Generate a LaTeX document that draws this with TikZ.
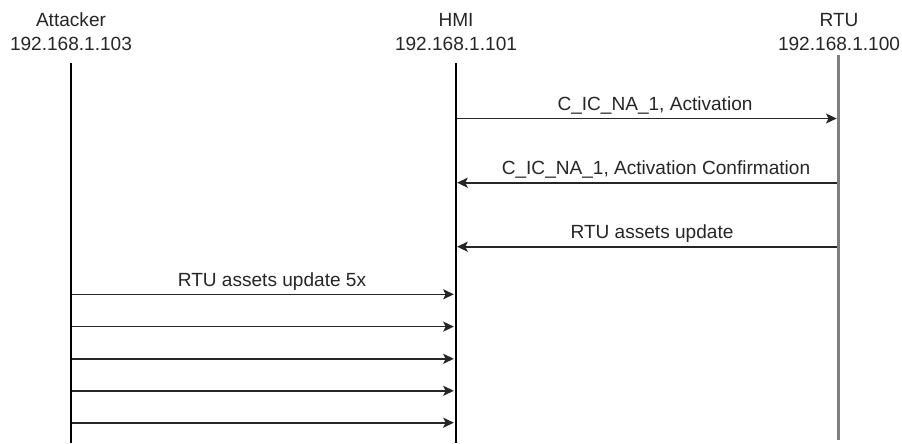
\documentclass[tikz,border=0pt]{standalone}
\usepackage{fontspec}
\setmainfont{Liberation Sans}
\usetikzlibrary{arrows.meta}
\begin{document}
\begin{tikzpicture}[x=0.75pt,y=-0.75pt,
  every node/.style={font=\fontsize{14.3}{17}\selectfont, text=black!85, inner sep=0pt},
  head/.style={anchor=base},
  lbl/.style={anchor=base},
  life/.style={line width=1.5pt, black},
  rtulife/.style={line width=2.3pt, black!50},
  msg/.style={line width=1.2pt, black!85, -{Stealth[length=8pt,width=7.5pt,inset=1.8pt]}},
]
\useasboundingbox (0,0) rectangle (902,443);

% participant headers
\node[head] (att)  at (71,26)  {Attacker};
\node[head] (attip) at (71,50) {192.168.1.103};
\node[head] (hmi)  at (456,26) {HMI};
\node[head] (hmiip) at (456,50) {192.168.1.101};
\node[head] (rtu)  at (839,26) {RTU};
\node[head] (rtuip) at (839,50) {192.168.1.100};

% lifelines
\coordinate (attTop) at (71,63);   \coordinate (attBot) at (71,443);
\coordinate (hmiTop) at (456,63);  \coordinate (hmiBot) at (456,443);
\coordinate (rtuTop) at (838.5,55); \coordinate (rtuBot) at (838.5,440);
\draw[life] (attTop) -- (attBot);
\draw[life] (hmiTop) -- (hmiBot);
\draw[rtulife] (rtuTop) -- (rtuBot);

% HMI <-> RTU exchange
\foreach \n/\y in {1/118.5,2/182.7,3/246.7}{
  \coordinate (h\n) at (456,\y);
  \coordinate (r\n) at (838.5,\y);
}
\draw[msg, shorten <=0.7pt, shorten >=1.4pt] (h1) -- (r1);
\draw[msg, shorten <=1.4pt, shorten >=0.8pt] (r2) -- (h2);
\draw[msg, shorten <=1.4pt, shorten >=0.8pt] (r3) -- (h3);
\node[lbl] (m1) at (655,110.7) {C\_IC\_NA\_1, Activation};
\node[lbl] (m2) at (656,174.9) {C\_IC\_NA\_1, Activation Confirmation};
\node[lbl] (m3) at (652,238.9) {RTU assets update};

% Attacker -> HMI, five injected updates
\foreach \n/\y in {1/294.3,2/326.6,3/358.8,4/390.8,5/422.7}{
  \coordinate (a\n) at (71,\y);
  \coordinate (k\n) at (456,\y);
  \draw[msg, shorten <=0.7pt, shorten >=1.6pt] (a\n) -- (k\n);
}
\node[lbl] (m4) at (272,286.5) {RTU assets update 5x};
\end{tikzpicture}
\end{document}
